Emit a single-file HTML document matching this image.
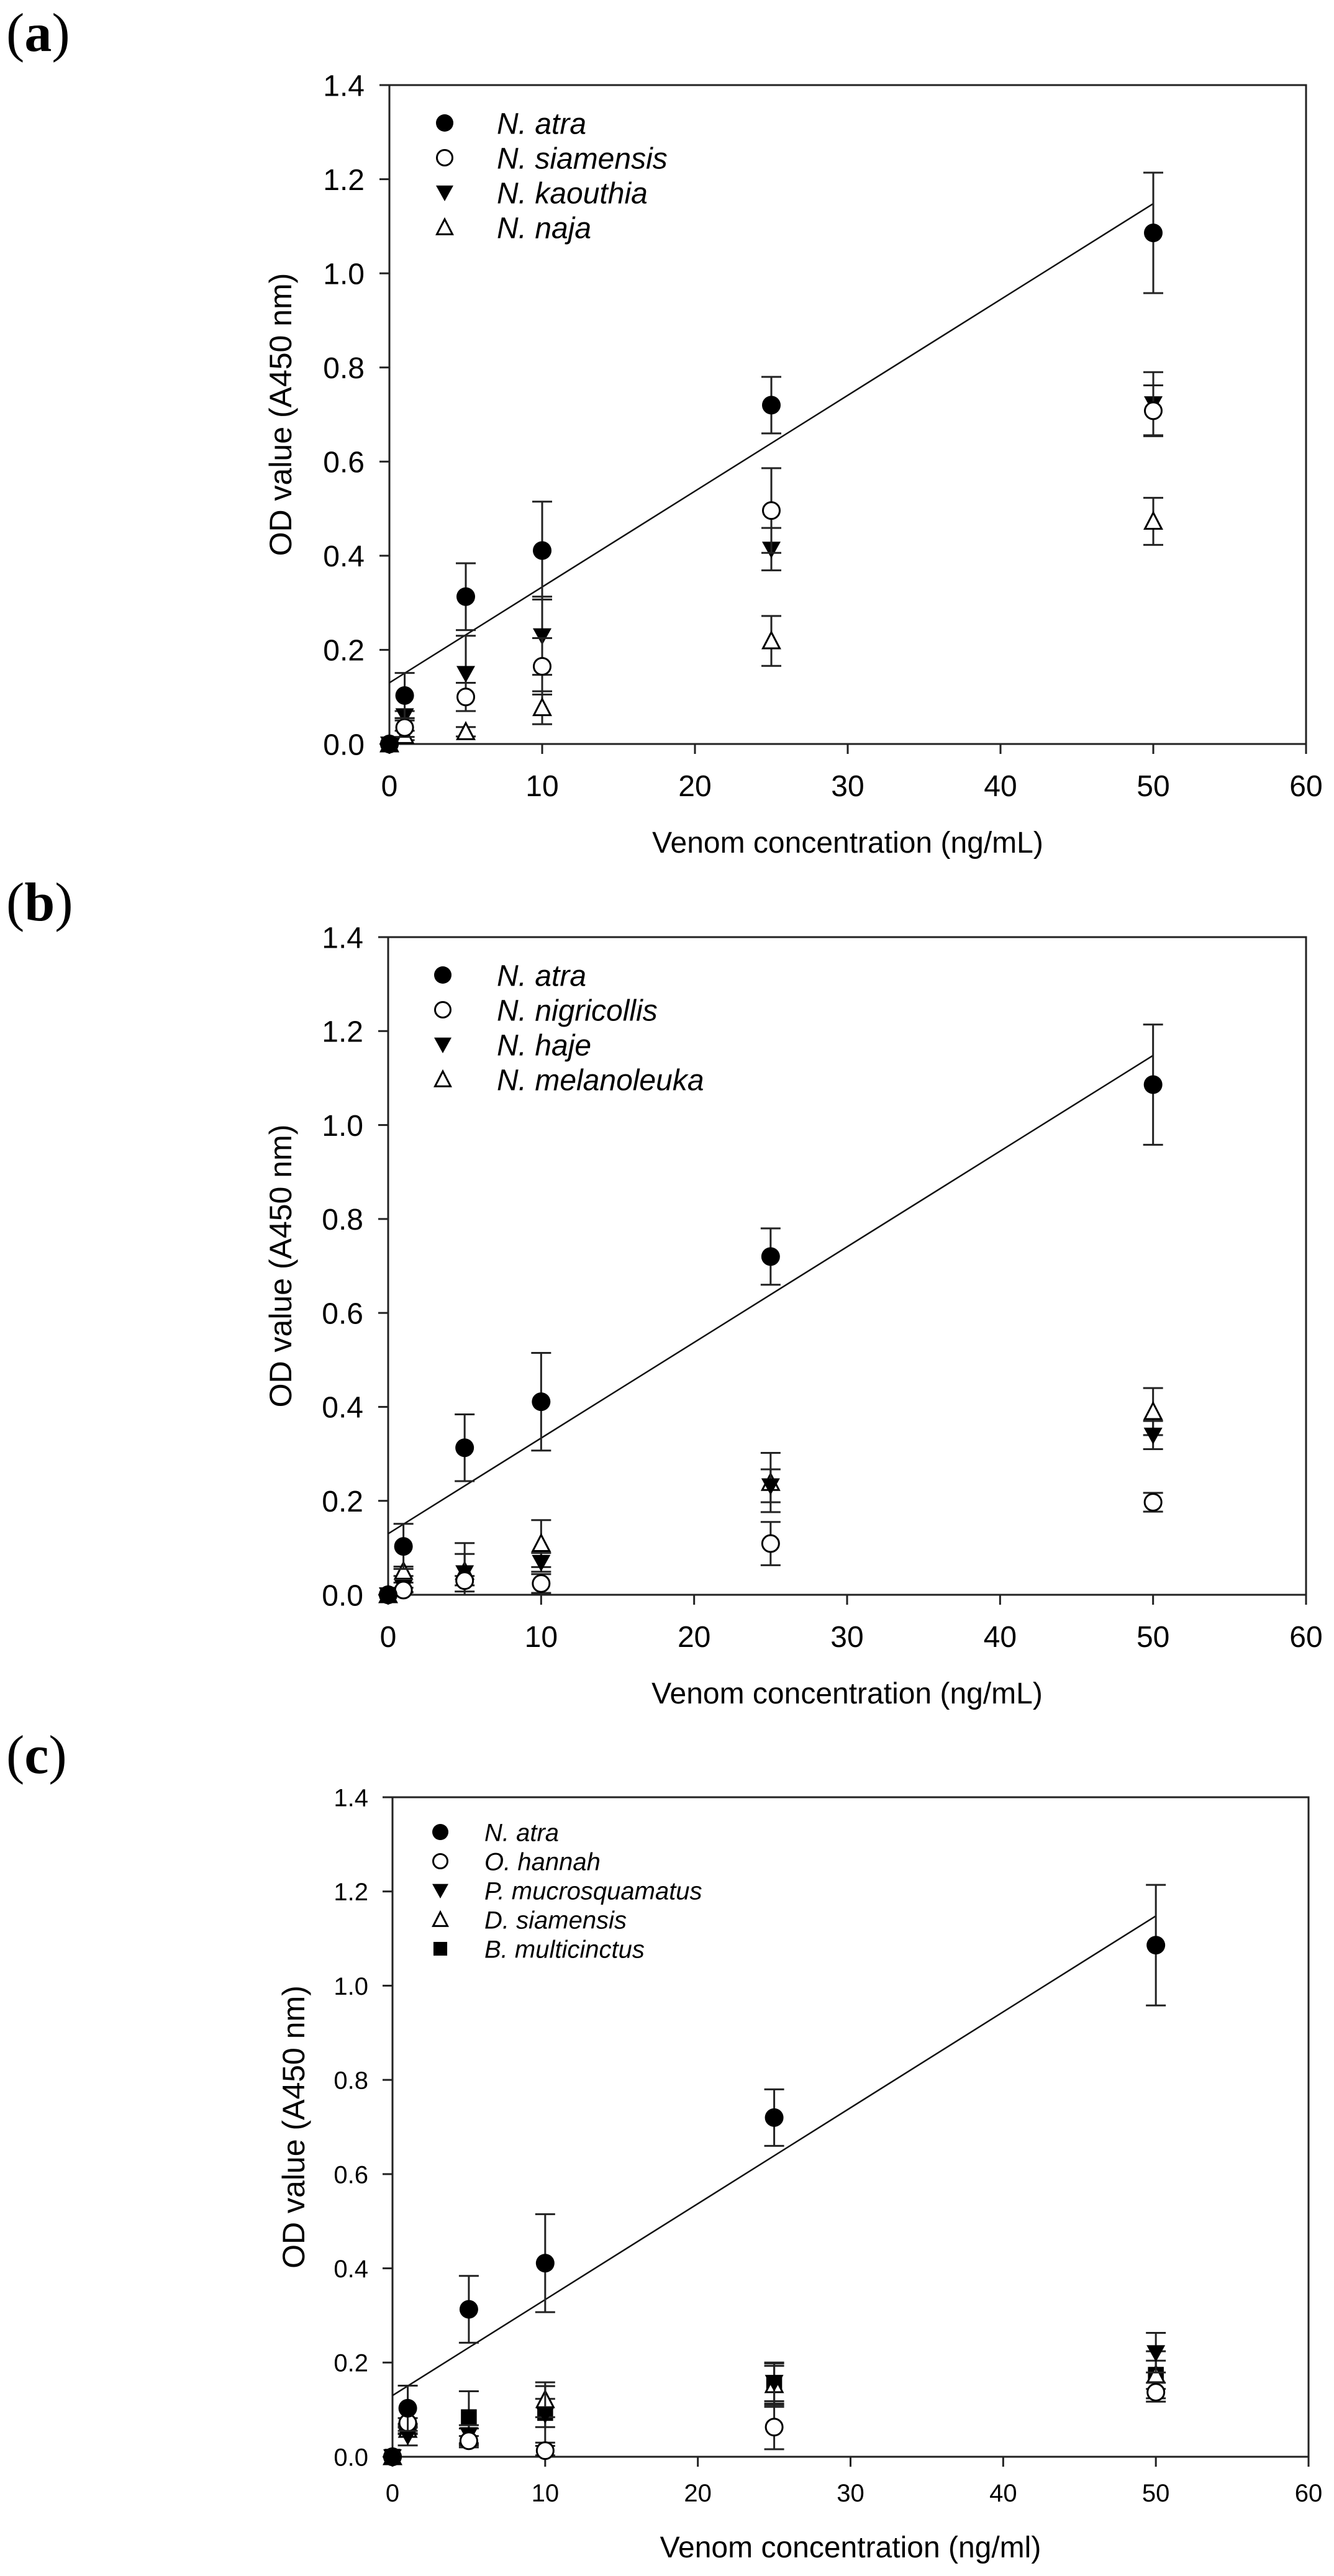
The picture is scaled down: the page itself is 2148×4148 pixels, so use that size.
<!DOCTYPE html>
<html><head><meta charset="utf-8"><style>
html,body{margin:0;padding:0;background:#fff;}
svg{display:block;}
text{font-family:"Liberation Sans",Arial,sans-serif;fill:#000;}
.pl{font-family:"Liberation Serif","Times New Roman",serif;}
</style></head><body>
<svg id="fig" width="2148" height="4148" viewBox="0 0 2148 4148" xmlns="http://www.w3.org/2000/svg"></svg>
<script>
const xValues = [0, 1, 5, 10, 25, 50];
const xTicks = [0, 10, 20, 30, 40, 50, 60];
const yTicks = [0.0, 0.2, 0.4, 0.6, 0.8, 1.0, 1.2, 1.4];
const fitX = [0, 50];
const fitY = [0.13, 1.148];

const atraMean = [0, 0.103, 0.313, 0.411, 0.720, 1.086];
const atraSd = [0, 0.048, 0.071, 0.104, 0.06, 0.128];

const siamensisMean = [0, 0.035, 0.10, 0.165, 0.496, 0.708];
const siamensisSd = [0, 0.02, 0.03, 0.06, 0.09, 0.054];
const kaouthiaMean = [0, 0.06, 0.15, 0.23, 0.414, 0.723];
const kaouthiaSd = [0, 0.01, 0.08, 0.083, 0.045, 0.067];
const najaMean = [0, 0.018, 0.026, 0.077, 0.219, 0.473];
const najaSd = [0, 0.01, 0.01, 0.035, 0.053, 0.05];

const nigricollisMean = [0, 0.01, 0.03, 0.024, 0.109, 0.197];
const nigricollisSd = [0, 0.005, 0.01, 0.02, 0.046, 0.02];
const hajeMean = [0, 0.016, 0.047, 0.069, 0.232, 0.34];
const hajeSd = [0, 0.01, 0.04, 0.02, 0.035, 0.03];
const melanoleukaMean = [0, 0.05, 0.05, 0.109, 0.239, 0.39];
const melanoleukaSd = [0, 0.01, 0.06, 0.05, 0.063, 0.05];

const hannahMean = [0, 0.072, 0.034, 0.013, 0.063, 0.137];
const hannahSd = [0, 0.01, 0.01, 0.01, 0.047, 0.02];
const mucroMean = [0, 0.044, 0.047, 0.09, 0.158, 0.221];
const mucroSd = [0, 0.02, 0.02, 0.06, 0.04, 0.042];
const dsiamMean = [0, 0.058, 0.04, 0.121, 0.153, 0.174];
const dsiamSd = [0, 0.01, 0.02, 0.037, 0.047, 0.05];
const multiMean = [0, 0.06, 0.084, 0.093, 0.153, 0.174];
const multiSd = [0, 0.01, 0.055, 0.03, 0.04, 0.03];

const NS = 'http://www.w3.org/2000/svg';
const svg = document.getElementById('fig');
function el(tag, attrs, parent, txt){
  const e = document.createElementNS(NS, tag);
  for (const k in attrs) e.setAttribute(k, attrs[k]);
  if (txt !== undefined) e.textContent = txt;
  (parent||svg).appendChild(e);
  return e;
}

function marker(g, type, cx, cy, r){
  let m;
  if (type === 'fcircle') m = el('circle', {cx:cx, cy:cy, r:r, fill:'#000'}, g);
  else if (type === 'ocircle') m = el('circle', {cx:cx, cy:cy, r:r-1.5, fill:'#fff', stroke:'#000', 'stroke-width':3}, g);
  else if (type === 'dtri') m = el('polygon', {points:`${cx-r},${cy-r*0.8} ${cx+r},${cy-r*0.8} ${cx},${cy+r}`, fill:'#000'}, g);
  else if (type === 'utri') m = el('polygon', {points:`${cx-r+1.5},${cy+r*0.8} ${cx+r-1.5},${cy+r*0.8} ${cx},${cy-r+1}`, fill:'#fff', stroke:'#000', 'stroke-width':3}, g);
  else if (type === 'square') m = el('rect', {x:cx-r*0.85, y:cy-r*0.85, width:r*1.7, height:r*1.7, fill:'#000'}, g);
  return m;
}

function panel(cfg){
  const g = el('g', {});
  
  
  const L=cfg.L, R=cfg.R, T=cfg.T, B=cfg.B;
  const xs = v => L + (v/60)*(R-L);
  const ys = v => B - (v/1.4)*(B-T);
  // panel label
  const pl = el('text', {x:10, y:cfg.labelY, 'font-size':88, class:'pl'}, g);
  
  
  el('tspan', {}, pl, '(');
  el('tspan', {'font-weight':'bold'}, pl, cfg.letter);
  el('tspan', {}, pl, ')');
  // frame
  const fr = el('rect', {x:L, y:T, width:R-L, height:B-T, fill:'none', stroke:'#222', 'stroke-width':3}, g);
  
  
  // y ticks
  yTicks.forEach(v => {
    const y = ys(v);
    el('line', {x1:L-16, x2:L, y1:y, y2:y, stroke:'#222', 'stroke-width':3}, g);
    const t = el('text', {x:cfg.yLabRight, y:y+cfg.tf*0.36, 'font-size':cfg.tf, 'text-anchor':'end'}, g, v.toFixed(1));
    
    
  });
  xTicks.forEach(v => {
    const x = xs(v);
    el('line', {x1:x, x2:x, y1:B, y2:B+16, stroke:'#222', 'stroke-width':3}, g);
    const t = el('text', {x:x, y:cfg.xLabBase, 'font-size':cfg.tf, 'text-anchor':'middle'}, g, String(v));
    
    
  });
  const xt = el('text', {x:(L+R)/2, y:cfg.xTitleBase, 'font-size':48, 'text-anchor':'middle'}, g, cfg.xTitle);
  
  
  const cy = (T+B)/2;
  const yt = el('text', {x:cfg.yTitleX, y:cy, 'font-size':50, 'text-anchor':'middle', transform:`rotate(-90 ${cfg.yTitleX} ${cy})`, 'dominant-baseline':'central'}, g, 'OD value (A450 nm)');
  
  
  // fit line
  const fl = el('line', {x1:xs(fitX[0]), y1:ys(fitY[0]), x2:xs(fitX[1]), y2:ys(fitY[1]), stroke:'#111', 'stroke-width':2.5}, g);
  
  
  // series (draw in reverse so atra on top)
  const order = cfg.series.slice().reverse();
  order.forEach(s => {
    const sg = el('g', {}, g);
    
    
    xValues.forEach((xv, i) => {
      const x = xs(xv), y = ys(s.mean[i]);
      const lo = ys(Math.max(0, s.mean[i]-s.sd[i])), hi = ys(s.mean[i]+s.sd[i]);
      if (s.sd[i] > 0){
        el('line', {x1:x, x2:x, y1:hi, y2:lo, stroke:'#222', 'stroke-width':3}, sg);
        el('line', {x1:x-16, x2:x+16, y1:hi, y2:hi, stroke:'#222', 'stroke-width':3}, sg);
        el('line', {x1:x-16, x2:x+16, y1:lo, y2:lo, stroke:'#222', 'stroke-width':3}, sg);
      }
      const m = marker(sg, s.type, x, y, cfg.mr);
      
      
    });
  });
  // legend
  const lg = el('g', {}, g);
  
  
  cfg.series.forEach((s, i) => {
    const y = cfg.legY + i*cfg.legDy;
    const eg = el('g', {}, lg);
    
    
    marker(eg, s.type, cfg.legMX, y, cfg.legR);
    el('text', {x:cfg.legTX, y:y+cfg.legF*0.36, 'font-size':cfg.legF, 'font-style':'italic'}, eg, s.label);
  });
}

panel({name:'panel-a', letter:'a', labelY:82, L:627, R:2103, T:137, B:1198, tf:48, yLabRight:587, xLabBase:1282, xTitleBase:1373, xTitle:'Venom concentration (ng/mL)', yTitleX:452, mr:15,
  legY:198, legDy:56, legMX:716, legTX:800, legF:48, legR:14,
  series:[
    {key:'n-atra', label:'N. atra', type:'fcircle', mean:atraMean, sd:atraSd},
    {key:'n-siamensis', label:'N. siamensis', type:'ocircle', mean:siamensisMean, sd:siamensisSd},
    {key:'n-kaouthia', label:'N. kaouthia', type:'dtri', mean:kaouthiaMean, sd:kaouthiaSd},
    {key:'n-naja', label:'N. naja', type:'utri', mean:najaMean, sd:najaSd}
  ]});
panel({name:'panel-b', letter:'b', labelY:1482, L:625, R:2103, T:1509, B:2568, tf:48, yLabRight:585, xLabBase:2652, xTitleBase:2743, xTitle:'Venom concentration (ng/mL)', yTitleX:452, mr:15,
  legY:1570, legDy:56, legMX:713, legTX:800, legF:48, legR:14,
  series:[
    {key:'n-atra', label:'N. atra', type:'fcircle', mean:atraMean, sd:atraSd},
    {key:'n-nigricollis', label:'N. nigricollis', type:'ocircle', mean:nigricollisMean, sd:nigricollisSd},
    {key:'n-haje', label:'N. haje', type:'dtri', mean:hajeMean, sd:hajeSd},
    {key:'n-melanoleuka', label:'N. melanoleuka', type:'utri', mean:melanoleukaMean, sd:melanoleukaSd}
  ]});
panel({name:'panel-c', letter:'c', labelY:2855, L:632, R:2107, T:2894, B:3956, tf:40, yLabRight:593, xLabBase:4028, xTitleBase:4118, xTitle:'Venom concentration (ng/ml)', yTitleX:473, mr:15,
  legY:2950, legDy:47, legMX:709, legTX:780, legF:40, legR:13,
  series:[
    {key:'n-atra', label:'N. atra', type:'fcircle', mean:atraMean, sd:atraSd},
    {key:'o-hannah', label:'O. hannah', type:'ocircle', mean:hannahMean, sd:hannahSd},
    {key:'p-mucrosquamatus', label:'P. mucrosquamatus', type:'dtri', mean:mucroMean, sd:mucroSd},
    {key:'d-siamensis', label:'D. siamensis', type:'utri', mean:dsiamMean, sd:dsiamSd},
    {key:'b-multicinctus', label:'B. multicinctus', type:'square', mean:multiMean, sd:multiSd}
  ]});
</script>
</body></html>
